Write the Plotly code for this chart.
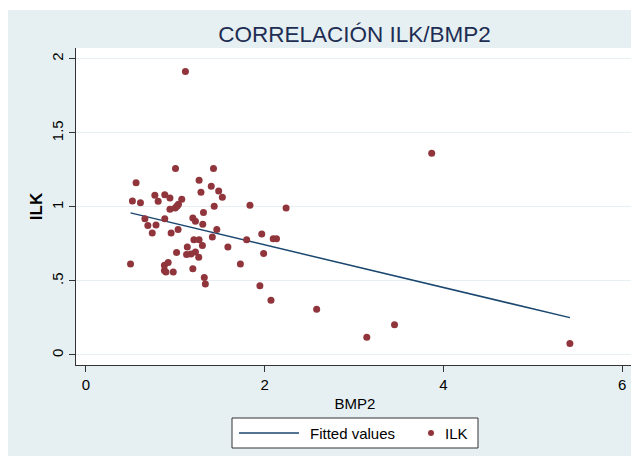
import plotly.graph_objects as go

# Data
bmp2 = [1.113, 3.868, 1.002, 1.427, 0.561, 1.266, 1.402, 1.287, 1.485, 1.526,
        0.771, 0.882, 0.808, 0.520, 0.610, 0.940, 1.072, 0.940, 0.998, 1.023,
        1.035, 1.014, 1.435, 1.835, 2.239, 1.315, 0.660, 0.882, 1.196, 1.225,
        1.307, 0.693, 0.784, 0.742, 0.953, 1.031, 1.464, 1.414, 1.208, 1.266,
        1.798, 1.967, 2.095, 2.132, 1.303, 1.134, 1.588, 1.014, 1.126, 1.175,
        1.225, 1.262, 1.988, 0.499, 0.878, 0.920, 1.728, 0.878, 0.895, 0.977,
        1.196, 1.324, 1.336, 1.946, 2.070, 2.581, 3.452, 3.142, 5.414]
ilk = [1.916, 1.363, 1.260, 1.260, 1.163, 1.180, 1.140, 1.100, 1.108, 1.065,
       1.079, 1.083, 1.038, 1.041, 1.029, 1.061, 1.052, 0.984, 0.993, 1.009,
       1.018, 1.004, 1.005, 1.011, 0.993, 0.962, 0.921, 0.921, 0.926, 0.903,
       0.883, 0.874, 0.878, 0.824, 0.824, 0.847, 0.847, 0.797, 0.779, 0.779,
       0.779, 0.817, 0.786, 0.786, 0.740, 0.729, 0.729, 0.693, 0.679, 0.682,
       0.695, 0.661, 0.686, 0.614, 0.607, 0.625, 0.614, 0.571, 0.560, 0.560,
       0.582, 0.524, 0.479, 0.467, 0.370, 0.309, 0.205, 0.120, 0.077]
fit_intercept = 1.032
fit_slope = -0.144

x_ticks = [0, 2, 4, 6]
x_tick_labels = ["0", "2", "4", "6"]
y_ticks = [0, 0.5, 1, 1.5, 2]
y_tick_labels = ["0", ".5", "1", "1.5", "2"]
series_names = ["Fitted values", "ILK"]

fit_x = sorted(bmp2)
fit_y = [fit_intercept + fit_slope * v for v in fit_x]

BG = "#E6F0F2"
LINE_C = "#1A476F"
MARK_C = "#90353B"
FONT = "Liberation Sans, Arial, Helvetica, sans-serif"
# the page body adds an 8px offset, so the figure is sized to the visible area
W, H = 631, 448
L, R, T, B = 68, 5, 40, 91
PW, PH = W - L - R, H - T - B


def px(fx):
    return (fx - L) / PW


def py(fy):
    return (H - B - fy) / PH


fig = go.Figure()
fig.add_trace(go.Scatter(x=fit_x, y=fit_y, mode="lines", name=series_names[0],
                         line=dict(color=LINE_C, width=1.5)))
fig.add_trace(go.Scatter(x=bmp2, y=ilk, mode="markers", name=series_names[1],
                         marker=dict(color=MARK_C, size=7, line=dict(width=0))))

shapes = [
    # thin white strip at the very top
    dict(type="rect", xref="paper", yref="paper", x0=px(0), x1=px(W),
         y0=py(2), y1=py(0), fillcolor="white", line=dict(width=0), layer="above"),
    # legend box
    dict(type="rect", xref="paper", yref="paper", x0=px(224), x1=px(470),
         y0=py(440), y1=py(410), fillcolor="white",
         line=dict(color="#333333", width=1), layer="above"),
    # legend line sample
    dict(type="line", xref="paper", yref="paper", x0=px(231), x1=px(291),
         y0=py(425), y1=py(425), line=dict(color=LINE_C, width=1.5), layer="above"),
    # legend marker sample
    dict(type="circle", xref="paper", yref="paper", x0=px(420), x1=px(426),
         y0=py(428), y1=py(422), fillcolor=MARK_C, line=dict(width=0), layer="above"),
]
annotations = [
    dict(text=series_names[0], xref="paper", yref="paper", x=px(300), y=py(425),
         xanchor="left", yanchor="middle", showarrow=False,
         font=dict(size=15, color="#000000")),
    dict(text=series_names[1], xref="paper", yref="paper", x=px(435), y=py(425),
         xanchor="left", yanchor="middle", showarrow=False,
         font=dict(size=15, color="#000000")),
]

fig.update_layout(
    template="none",
    width=W, height=H,
    margin=dict(l=L, r=R, t=T, b=B, pad=0, autoexpand=False),
    paper_bgcolor=BG,
    plot_bgcolor="white",
    font=dict(family=FONT, color="#000000", size=15),
    title=dict(text="CORRELACIÓN ILK/BMP2", xref="container", x=346.5 / W, xanchor="center",
               yref="container", y=1 - 26 / H, yanchor="middle",
               font=dict(size=22.5, color="#1E2D53", family=FONT)),
    showlegend=False,
    shapes=shapes,
    annotations=annotations,
)
fig.update_xaxes(range=[-0.111, 6.131], tickvals=x_ticks, ticktext=x_tick_labels,
                 showgrid=False, zeroline=False, showline=True, linecolor="#333333",
                 linewidth=1, ticks="outside", ticklen=6, tickcolor="#333333",
                 automargin=False, tickfont=dict(size=15),
                 title=dict(text="BMP2", font=dict(size=15), standoff=6))
fig.update_yaxes(range=[-0.0676, 2.074], tickvals=y_ticks, ticktext=y_tick_labels,
                 showgrid=True, gridcolor=BG, gridwidth=1, zeroline=False,
                 showline=True, linecolor="#333333", linewidth=1, ticks="outside",
                 ticklen=6, tickcolor="#333333", tickangle=-90, automargin=False,
                 tickfont=dict(size=15),
                 title=dict(text="<b>ILK</b>", font=dict(size=17), standoff=2))

fig.write_html("out.html")
